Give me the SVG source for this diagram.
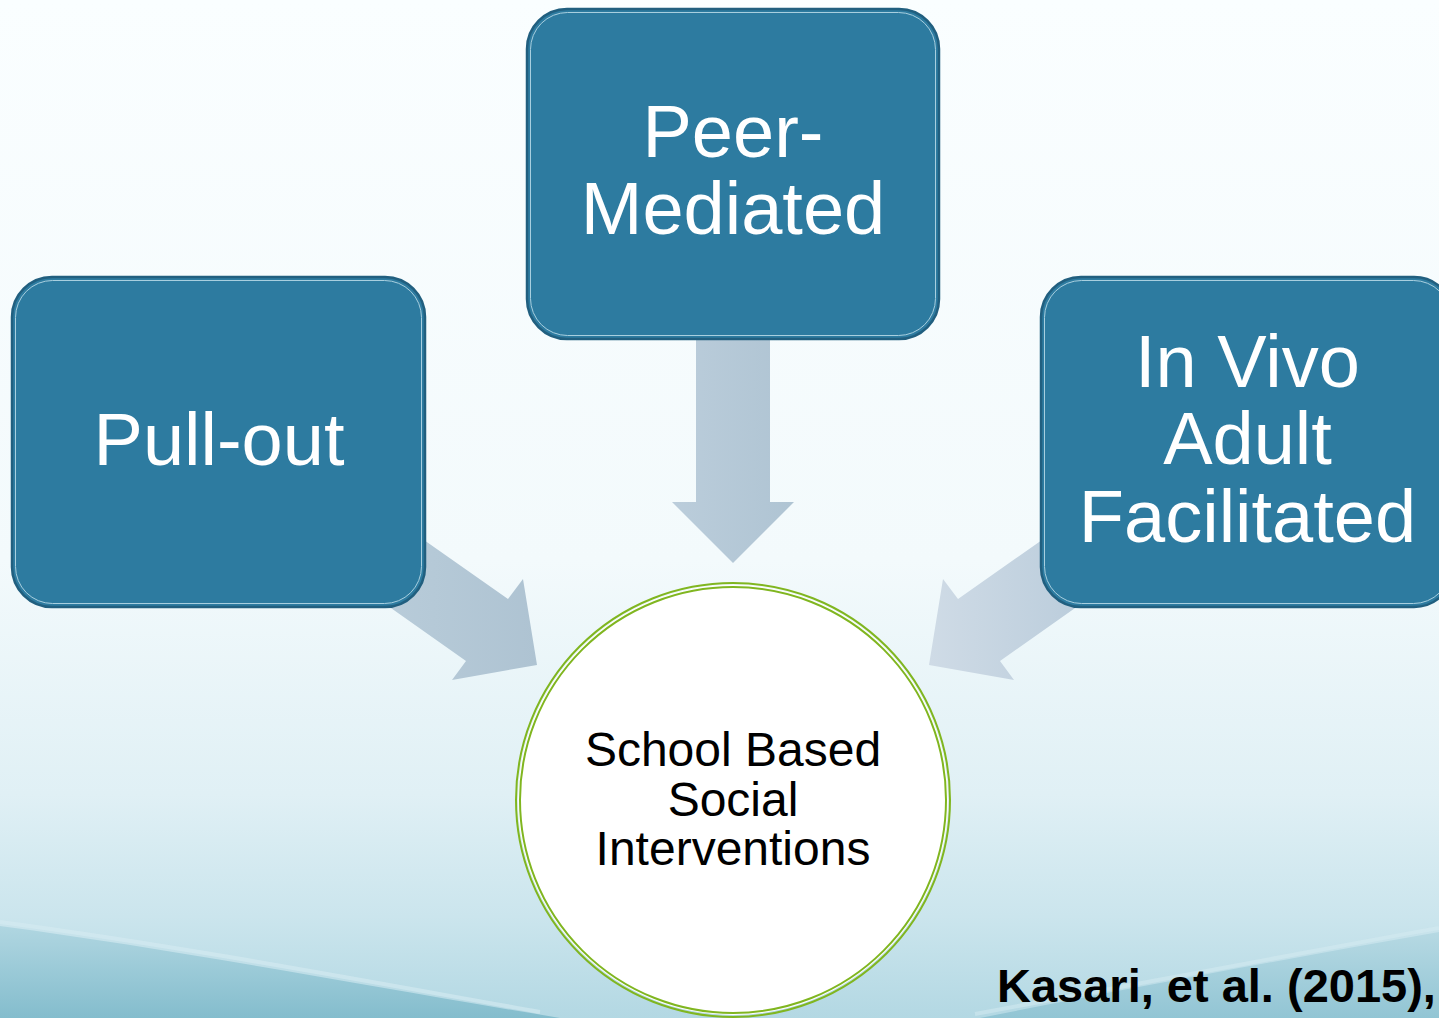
<svg xmlns="http://www.w3.org/2000/svg" width="1439" height="1018" viewBox="0 0 1439 1018">
<defs>
<linearGradient id="bg" x1="0" y1="0" x2="0" y2="1">
<stop offset="0" stop-color="#FAFEFF"/>
<stop offset="0.55" stop-color="#F3FAFC"/>
<stop offset="0.78" stop-color="#E0F0F5"/>
<stop offset="0.9" stop-color="#CBE5ED"/>
<stop offset="1" stop-color="#B3D8E3"/>
</linearGradient>
<linearGradient id="waveL" x1="0" y1="926" x2="0" y2="1018" gradientUnits="userSpaceOnUse">
<stop offset="0" stop-color="#B0D6E1"/>
<stop offset="1" stop-color="#84BDCD"/>
</linearGradient>
<linearGradient id="waveR" x1="0" y1="932" x2="0" y2="1018" gradientUnits="userSpaceOnUse">
<stop offset="0" stop-color="#B6D9E3"/>
<stop offset="1" stop-color="#92C5D4"/>
</linearGradient>
<linearGradient id="arrL" x1="0" y1="0" x2="1" y2="0">
<stop offset="0" stop-color="#BCCFDC"/>
<stop offset="1" stop-color="#AEC3D2"/>
</linearGradient>
<linearGradient id="arrR" x1="0" y1="0" x2="1" y2="0">
<stop offset="0" stop-color="#CFDBE6"/>
<stop offset="1" stop-color="#B4C8D8"/>
</linearGradient>
<linearGradient id="arrD" x1="0" y1="0" x2="1" y2="0">
<stop offset="0" stop-color="#BBCDDB"/>
<stop offset="1" stop-color="#AFC4D3"/>
</linearGradient>
</defs>
<style>
.box{fill:#2D7BA0;stroke:#215F7F;stroke-width:2.5}
.boxin{fill:none;stroke:#A8CFDF;stroke-width:1}
.lbl{font-family:"Liberation Sans",Arial,sans-serif;font-size:74px;fill:#FFFFFF;text-anchor:middle}
.ctr{font-family:"Liberation Sans",Arial,sans-serif;font-size:48px;fill:#000000;text-anchor:middle}
.ring{fill:none;stroke:#80B620;stroke-width:2}
.cite{font-family:"Liberation Sans",Arial,sans-serif;font-size:47px;font-weight:bold;fill:#000000}
</style>
<g id="background">
<rect x="0" y="0" width="1439" height="1018" fill="url(#bg)"/>
<path d="M0,926 C180,950 360,985 560,1018 L0,1018 Z" fill="url(#waveL)"/>
<path d="M0,922 C180,946 360,980 540,1012" fill="none" stroke="#D6EBF2" stroke-width="4" opacity="0.6"/>
<path d="M1439,932 C1280,960 1120,990 980,1018 L1439,1018 Z" fill="url(#waveR)"/>
<path d="M1439,928 C1280,956 1120,986 975,1014" fill="none" stroke="#D6EBF2" stroke-width="4" opacity="0.5"/>
</g>
<g id="connectors">
<polygon points="330,474 508,599 523,579 537,665 452,680 466,661 330,565" fill="url(#arrL)"/>
<polygon points="1136,474 958,599 943,579 929,665 1014,680 1000,661 1136,565" fill="url(#arrR)"/>
<polygon points="696,330 770,330 770,502 794,502 733,563 672,502 696,502" fill="url(#arrD)"/>
</g>
<g id="node-peer">
<rect class="box" x="527" y="9" width="412" height="330" rx="40"/>
<rect class="boxin" x="530.5" y="12.5" width="405" height="323" rx="37"/>
<text class="lbl" x="733" y="157">Peer-</text>
<text class="lbl" x="733" y="234">Mediated</text>
</g>
<g id="node-pullout">
<rect class="box" x="12" y="277" width="413" height="330" rx="40"/>
<rect class="boxin" x="15.5" y="280.5" width="406" height="323" rx="37"/>
<text class="lbl" x="219" y="465">Pull-out</text>
</g>
<g id="node-invivo">
<rect class="box" x="1041" y="277" width="413" height="330" rx="40"/>
<rect class="boxin" x="1044.5" y="280.5" width="406" height="323" rx="37"/>
<text class="lbl" x="1247.5" y="387">In Vivo</text>
<text class="lbl" x="1247.5" y="464">Adult</text>
<text class="lbl" x="1247.5" y="542">Facilitated</text>
</g>
<g id="node-center">
<circle cx="733" cy="800" r="215" fill="#FFFFFF"/>
<circle class="ring" cx="733" cy="800" r="217"/>
<circle class="ring" cx="733" cy="800" r="213"/>
<text class="ctr" x="733" y="766">School Based</text>
<text class="ctr" x="733" y="816">Social</text>
<text class="ctr" x="733" y="865">Interventions</text>
</g>
<text class="cite" x="997" y="1002">Kasari, et al. (2015),</text>
</svg>
